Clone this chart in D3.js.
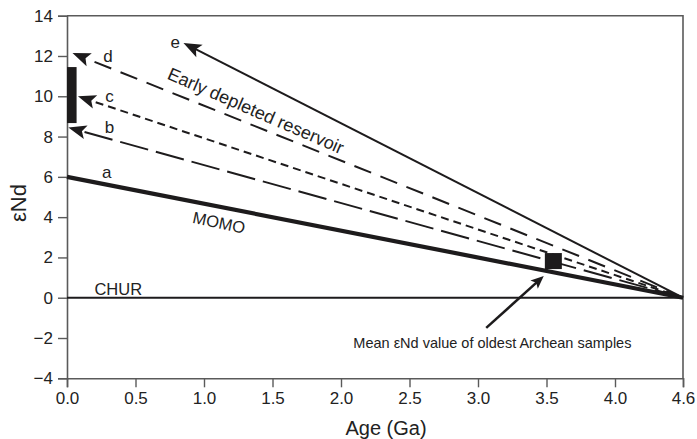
<!DOCTYPE html>
<html>
<head>
<meta charset="utf-8">
<script src="https://cdn.jsdelivr.net/npm/d3@7"></script>
<style>
  html, body { margin: 0; padding: 0; background: #fff; }
  svg { display: block; font-family: "Liberation Sans", Arial, Helvetica, sans-serif; }
</style>
</head>
<body>
<svg id="chart" width="697" height="439"></svg>
<script>
// ---- data ----
const trendNames = ["a", "b", "c", "d", "e"];
const trendStartAge = [0, 0.01, 0.08, 0.04, 0.85];     // Ga (arrow tip end)
const trendStartEps = [6, 8.45, 10.0, 12.15, 12.65];   // εNd at arrow tip
const convergeAge = 4.6;
const convergeEps = 0;
const churAge = [0, 4.6];
const churEps = [0, 0];
const barAge = [0, 0.07];
const barEps = [8.67, 11.45];
const meanArcheanAge = 3.55;
const meanArcheanEps = 1.82;
const xTickValues = [0, 0.5, 1.0, 1.5, 2.0, 2.5, 3.0, 3.5, 4.0, 4.6];
const xTickLabels = ["0.0", "0.5", "1.0", "1.5", "2.0", "2.5", "3.0", "3.5", "4.0", "4.6"];
const yTickValues = [-4, -2, 0, 2, 4, 6, 8, 10, 12, 14];

// ---- layout ----
const L = 67, R = 683, T = 15.7, B = 378.3;
const svg = d3.select("#chart");
const x = d3.scaleLinear().domain([0, 4.0, 4.6]).range([L, 615, R]);
const y = d3.scaleLinear().domain([-4, 14]).range([B, T]);
const ink = "#1d1b1c";
const axisCol = "#5a5a5a";

// frame (top and right)
svg.append("path")
  .attr("d", `M${L},${T}H${R}V${B}`)
  .attr("fill", "none").attr("stroke", axisCol).attr("stroke-width", 1.6);

// axes
const yAxis = svg.append("g").attr("transform", `translate(${L},0)`)
  .call(d3.axisLeft(y).tickValues(yTickValues).tickSize(9).tickPadding(5)
    .tickFormat(d => d < 0 ? "\u2212" + Math.abs(d) : d));
const xAxis = svg.append("g").attr("transform", `translate(0,${B})`)
  .call(d3.axisBottom(x).tickValues(xTickValues).tickSize(9).tickPadding(5)
    .tickFormat((d, i) => xTickLabels[i]));
[yAxis, xAxis].forEach(g => {
  g.select(".domain").attr("stroke", axisCol).attr("stroke-width", 1.6);
  g.selectAll(".tick line").attr("stroke", axisCol).attr("stroke-width", 1.4);
  g.selectAll(".tick text").attr("fill", "#222").style("font-size", "17px")
    .style("font-family", '"Liberation Sans", Arial, sans-serif');
});

// axis titles
svg.append("text").attr("x", 386).attr("y", 435).attr("text-anchor", "middle")
  .style("font-size", "20px").attr("fill", "#222").text("Age (Ga)");
svg.append("text").attr("transform", `translate(26,${203}) rotate(-90)`)
  .attr("text-anchor", "middle").style("font-size", "22px").attr("fill", "#222").text("εNd");

// CHUR line
svg.append("line")
  .attr("x1", x(churAge[0])).attr("y1", y(churEps[0]))
  .attr("x2", x(churAge[1])).attr("y2", y(churEps[1]))
  .attr("stroke", ink).attr("stroke-width", 2);

// trend lines
const styles = [
  { w: 4.2, dash: null, arrow: false },
  { w: 2, dash: "29,8", arrow: true },
  { w: 2, dash: "8,5", arrow: true },
  { w: 2, dash: "18,10", arrow: true },
  { w: 2, dash: null, arrow: true }
];

function arrowHead(x1, y1, x2, y2, len, half) {
  const dx = x2 - x1, dy = y2 - y1, d = Math.hypot(dx, dy);
  const ux = dx / d, uy = dy / d, px = -uy, py = ux;
  const bx = x2 - ux * len, by = y2 - uy * len;
  const nx = x2 - ux * len * 0.78, ny = y2 - uy * len * 0.78;
  return `M${x2},${y2}L${bx + px * half},${by + py * half}L${nx},${ny}L${bx - px * half},${by - py * half}Z`;
}

trendNames.forEach((n, i) => {
  const st = styles[i];
  const x1 = x(convergeAge), y1 = y(convergeEps);
  const x2 = x(trendStartAge[i]), y2 = y(trendStartEps[i]);
  let ex = x2, ey = y2;
  if (st.arrow) {
    const d = Math.hypot(x2 - x1, y2 - y1);
    ex = x2 + (x1 - x2) / d * 12; ey = y2 + (y1 - y2) / d * 12;
  }
  svg.append("line")
    .attr("x1", x1).attr("y1", y1).attr("x2", ex).attr("y2", ey)
    .attr("stroke", ink).attr("stroke-width", st.w)
    .attr("stroke-dasharray", st.dash);
  if (st.arrow) {
    svg.append("path").attr("d", arrowHead(x1, y1, x2, y2, 18, 7)).attr("fill", ink);
  }
});

// trend labels
const labelPos = [[0.29, 5.94], [0.31, 8.18], [0.31, 9.72], [0.30, 11.71], [0.79, 12.4]];
trendNames.forEach((n, i) => {
  svg.append("text").attr("x", x(labelPos[i][0])).attr("y", y(labelPos[i][1]))
    .attr("text-anchor", "middle").style("font-size", "17px").attr("fill", "#222").text(n);
});

// bar of modern values
svg.append("rect")
  .attr("x", x(barAge[0])).attr("y", y(barEps[1]))
  .attr("width", x(barAge[1]) - x(barAge[0])).attr("height", y(barEps[0]) - y(barEps[1]))
  .attr("fill", ink);

// mean archean square
svg.append("rect")
  .attr("x", x(meanArcheanAge) - 8.5).attr("y", y(meanArcheanEps) - 8)
  .attr("width", 17).attr("height", 16).attr("fill", ink);

// text labels
svg.append("text").attr("x", x(0.2)).attr("y", y(0.13))
  .style("font-size", "16.5px").attr("fill", "#222").text("CHUR");
svg.append("text")
  .attr("transform", `translate(${x(1.1)},${y(3.45)}) rotate(12)`)
  .attr("text-anchor", "middle").style("font-size", "16.5px").attr("fill", "#222").text("MOMO");
svg.append("text")
  .attr("transform", `translate(${x(1.36)},${y(9.0)}) rotate(23.5)`)
  .attr("text-anchor", "middle").style("font-size", "18px").attr("fill", "#222").text("Early depleted reservoir");

// annotation
const ax1 = x(3.06), ay1 = y(-1.5), ax2 = x(3.48), ay2 = y(1.08);
{
  const d = Math.hypot(ax2 - ax1, ay2 - ay1);
  svg.append("line").attr("x1", ax1).attr("y1", ay1)
    .attr("x2", ax2 - (ax2 - ax1) / d * 8).attr("y2", ay2 - (ay2 - ay1) / d * 8)
    .attr("stroke", ink).attr("stroke-width", 2.5);
  svg.append("path").attr("d", arrowHead(ax1, ay1, ax2, ay2, 13, 5.5)).attr("fill", ink);
}
svg.append("text").attr("x", x(2.09)).attr("y", y(-2.49))
  .style("font-size", "14.5px").attr("fill", "#222").text("Mean εNd value of oldest Archean samples");
</script>
</body>
</html>
